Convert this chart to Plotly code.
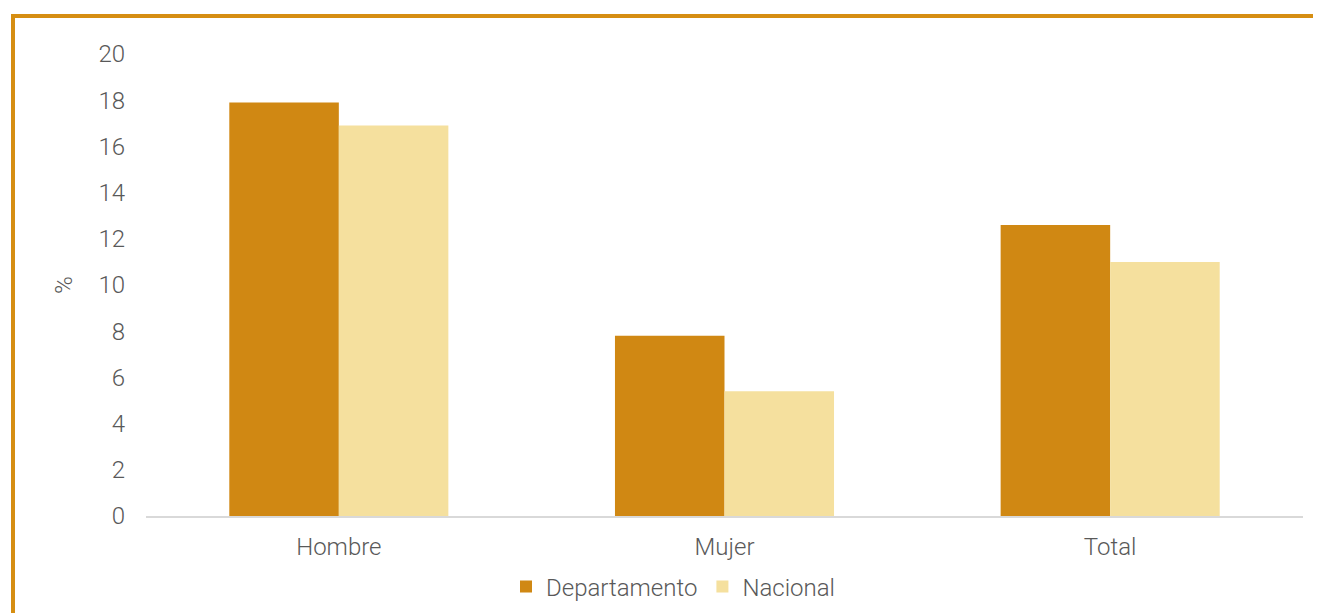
import plotly.graph_objects as go

categories = ["Hombre", "Mujer", "Total"]
departamento = [17.9, 7.8, 12.6]
nacional = [16.9, 5.4, 11.0]
y_ticks = [0, 2, 4, 6, 8, 10, 12, 14, 16, 18, 20]

# page has an 8px body margin; figure offset by 8px from the window origin
OFF = 8
W, H = 1321 - OFF, 613 - OFF
L, R, T = 146 - OFF, 18, 54 - OFF
B = H - (516 - OFF)
pw, ph = W - L - R, H - T - B

def px(x):  # page x -> paper x
    return (x - OFF - L) / pw

def py(y):  # page y -> paper y
    return (H - B - (y - OFF)) / ph

font = dict(family="Roboto", size=24, color="#595959", weight=300)

fig = go.Figure()
fig.add_trace(go.Bar(name="Departamento", x=categories, y=departamento,
                     marker=dict(color="#D08813", line=dict(width=0))))
fig.add_trace(go.Bar(name="Nacional", x=categories, y=nacional,
                     marker=dict(color="#F5E09E", line=dict(width=0))))

border = "#D68E12"
fig.update_layout(
    width=W, height=H,
    margin=dict(l=L, r=R, t=T, b=B, autoexpand=False),
    paper_bgcolor="white", plot_bgcolor="white",
    barmode="group", bargap=0.432, bargroupgap=0,
    font=font,
    showlegend=True,
    legend=dict(orientation="h", x=px(673), xanchor="center", y=py(587), yanchor="middle",
                font=font, itemsizing="constant", traceorder="normal"),
    xaxis=dict(showline=True, linecolor="#D9D9D9", linewidth=2, ticks="",
               tickfont=font, showgrid=False, ticklabelstandoff=8, automargin=False),
    yaxis=dict(range=[0, 20], tickvals=y_ticks, showgrid=False, zeroline=False,
               tickfont=font, ticks="", ticklabelstandoff=20, automargin=False,
               title=dict(text="%", font=font, standoff=18)),
    shapes=[
        dict(type="line", xref="paper", yref="paper", x0=px(11), x1=px(1340),
             y0=py(16), y1=py(16), line=dict(color=border, width=4), layer="above"),
        dict(type="line", xref="paper", yref="paper", x0=px(13), x1=px(13),
             y0=py(14), y1=py(640), line=dict(color=border, width=4), layer="above"),
    ],
)

fig.write_html("out.html")
